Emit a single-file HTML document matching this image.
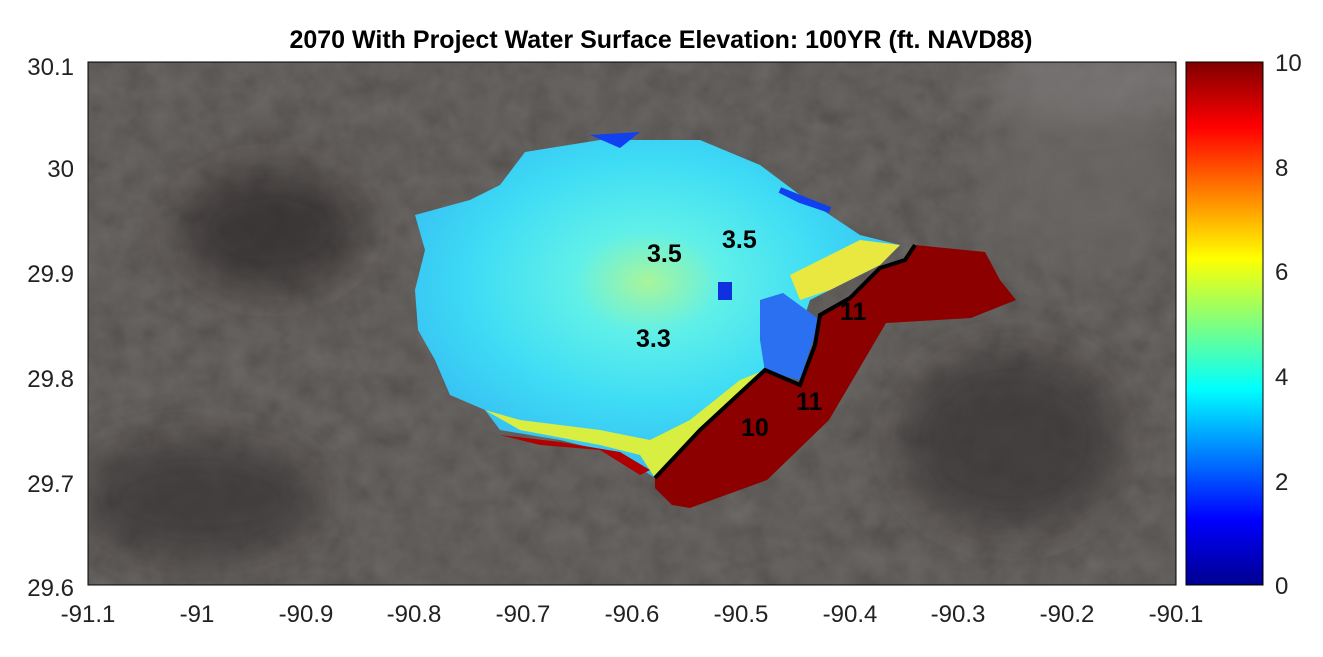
<!DOCTYPE html>
<html><head><style>
body{margin:0;background:#fff;width:1323px;height:652px;overflow:hidden;font-family:"Liberation Sans",Arial,sans-serif}
</style></head><body>
<svg width="1323" height="652" xmlns="http://www.w3.org/2000/svg" font-family="Liberation Sans, Arial, sans-serif">
<defs>
<linearGradient id="cb" x1="0" y1="1" x2="0" y2="0">
<stop offset="0" stop-color="#00008f"/>
<stop offset="0.125" stop-color="#0000ff"/>
<stop offset="0.375" stop-color="#00ffff"/>
<stop offset="0.625" stop-color="#ffff00"/>
<stop offset="0.875" stop-color="#ff0000"/>
<stop offset="1" stop-color="#800000"/>
</linearGradient>
<radialGradient id="bl" cx="0.48" cy="0.42" r="0.6">
<stop offset="0" stop-color="#a8f59a"/>
<stop offset="0.25" stop-color="#60f0e8"/>
<stop offset="0.6" stop-color="#3edcf5"/>
<stop offset="1" stop-color="#35b8f2"/>
</radialGradient>
<filter id="bf"><feGaussianBlur stdDeviation="22"/></filter>
<filter id="tx" x="0" y="0" width="1" height="1">
<feTurbulence type="fractalNoise" baseFrequency="0.04" numOctaves="3" seed="4"/>
<feColorMatrix type="matrix" values="0.2 0.2 0.2 0 0  0.19 0.19 0.19 0 0  0.18 0.18 0.18 0 0  0 0 0 0 0.3"/>
</filter>
<clipPath id="pc"><rect x="88" y="62" width="1088" height="523"/></clipPath>
</defs>
<g clip-path="url(#pc)">
<rect x="88" y="62" width="1088" height="523" fill="#4b4745"/>
<rect x="88" y="62" width="1088" height="523" filter="url(#tx)"/>
<g filter="url(#bf)" opacity="0.7">
<ellipse cx="270" cy="230" rx="90" ry="60" fill="#2a2725"/>
<ellipse cx="200" cy="500" rx="120" ry="60" fill="#363230"/>
<ellipse cx="1010" cy="440" rx="110" ry="90" fill="#363331"/>
<ellipse cx="1080" cy="180" rx="100" ry="90" fill="#6a6765"/>
<ellipse cx="1100" cy="80" rx="120" ry="30" fill="#828080"/>
</g>
<path d="M415,215 L470,200 L500,185 L525,152 L600,140 L700,140 L760,165 L800,195 L860,235 L900,245 L880,265 L830,290 L810,300 L800,330 L790,360 L765,372 L700,430 L655,478 L620,455 L560,440 L500,430 L485,410 L450,395 L435,360 L418,330 L415,290 L425,250 Z" fill="url(#bl)"/>
<path d="M485,410 L520,430 L600,445 L640,455 L655,478 L700,430 L760,372 L740,380 L690,420 L650,440 L600,430 L520,420 Z" fill="#d8ee40"/>
<path d="M500,435 L560,442 L620,452 L650,470 L640,475 L600,450 L540,445 Z" fill="#b00000"/>
<path d="M760,300 L783,293 L820,320 L800,380 L765,372 L760,340 Z" fill="#2a70f0"/>
<path d="M790,275 L860,240 L900,245 L880,265 L830,290 L800,300 Z" fill="#e8e840"/>
<path d="M655,478 L700,430 L765,370 L800,385 L815,345 L820,315 L850,298 L880,268 L905,260 L915,245 L985,252 L1000,280 L1016,300 L971,318 L886,323 L829,420 L767,480 L690,508 L672,505 L655,488 Z" fill="#8c0000"/>
<path d="M655,478 L700,430 L765,370 L800,385 L815,345 L820,315 L850,298 L880,268 L905,260 L915,245" fill="none" stroke="#000" stroke-width="4"/>
<path d="M590,135 L640,132 L620,148 Z" fill="#1040f0"/>
<path d="M780,190 L830,210 L800,200 Z" fill="#1040f0" stroke="#1040f0" stroke-width="6"/>
<rect x="718" y="282" width="14" height="18" fill="#1030e0"/>
<g font-size="25" font-weight="bold" fill="#000">
<text x="647" y="262">3.5</text>
<text x="722" y="248">3.5</text>
<text x="636" y="347">3.3</text>
<text x="840" y="320">11</text>
<text x="796" y="410">11</text>
<text x="741" y="436">10</text>
</g>
</g>
<rect x="88" y="62" width="1088" height="523" fill="none" stroke="#000" stroke-width="1"/>
<rect x="1186" y="62" width="77" height="523" fill="url(#cb)" stroke="#000" stroke-width="1"/>
<text x="661" y="48" font-size="25" font-weight="bold" text-anchor="middle">2070 With Project Water Surface Elevation: 100YR (ft. NAVD88)</text>
<g font-size="24" fill="#222" text-anchor="end">
<text x="74" y="75">30.1</text>
<text x="74" y="177">30</text>
<text x="74" y="282">29.9</text>
<text x="74" y="387">29.8</text>
<text x="74" y="492">29.7</text>
<text x="74" y="596">29.6</text>
</g>
<g font-size="24" fill="#222" text-anchor="middle">
<text x="88" y="622">-91.1</text>
<text x="197" y="622">-91</text>
<text x="306" y="622">-90.9</text>
<text x="414" y="622">-90.8</text>
<text x="523" y="622">-90.7</text>
<text x="632" y="622">-90.6</text>
<text x="741" y="622">-90.5</text>
<text x="850" y="622">-90.4</text>
<text x="958" y="622">-90.3</text>
<text x="1067" y="622">-90.2</text>
<text x="1176" y="622">-90.1</text>
</g>
<g font-size="24" fill="#222">
<text x="1275" y="71">10</text>
<text x="1275" y="176">8</text>
<text x="1275" y="280">6</text>
<text x="1275" y="385">4</text>
<text x="1275" y="490">2</text>
<text x="1275" y="594">0</text>
</g>
</svg>
</body></html>
